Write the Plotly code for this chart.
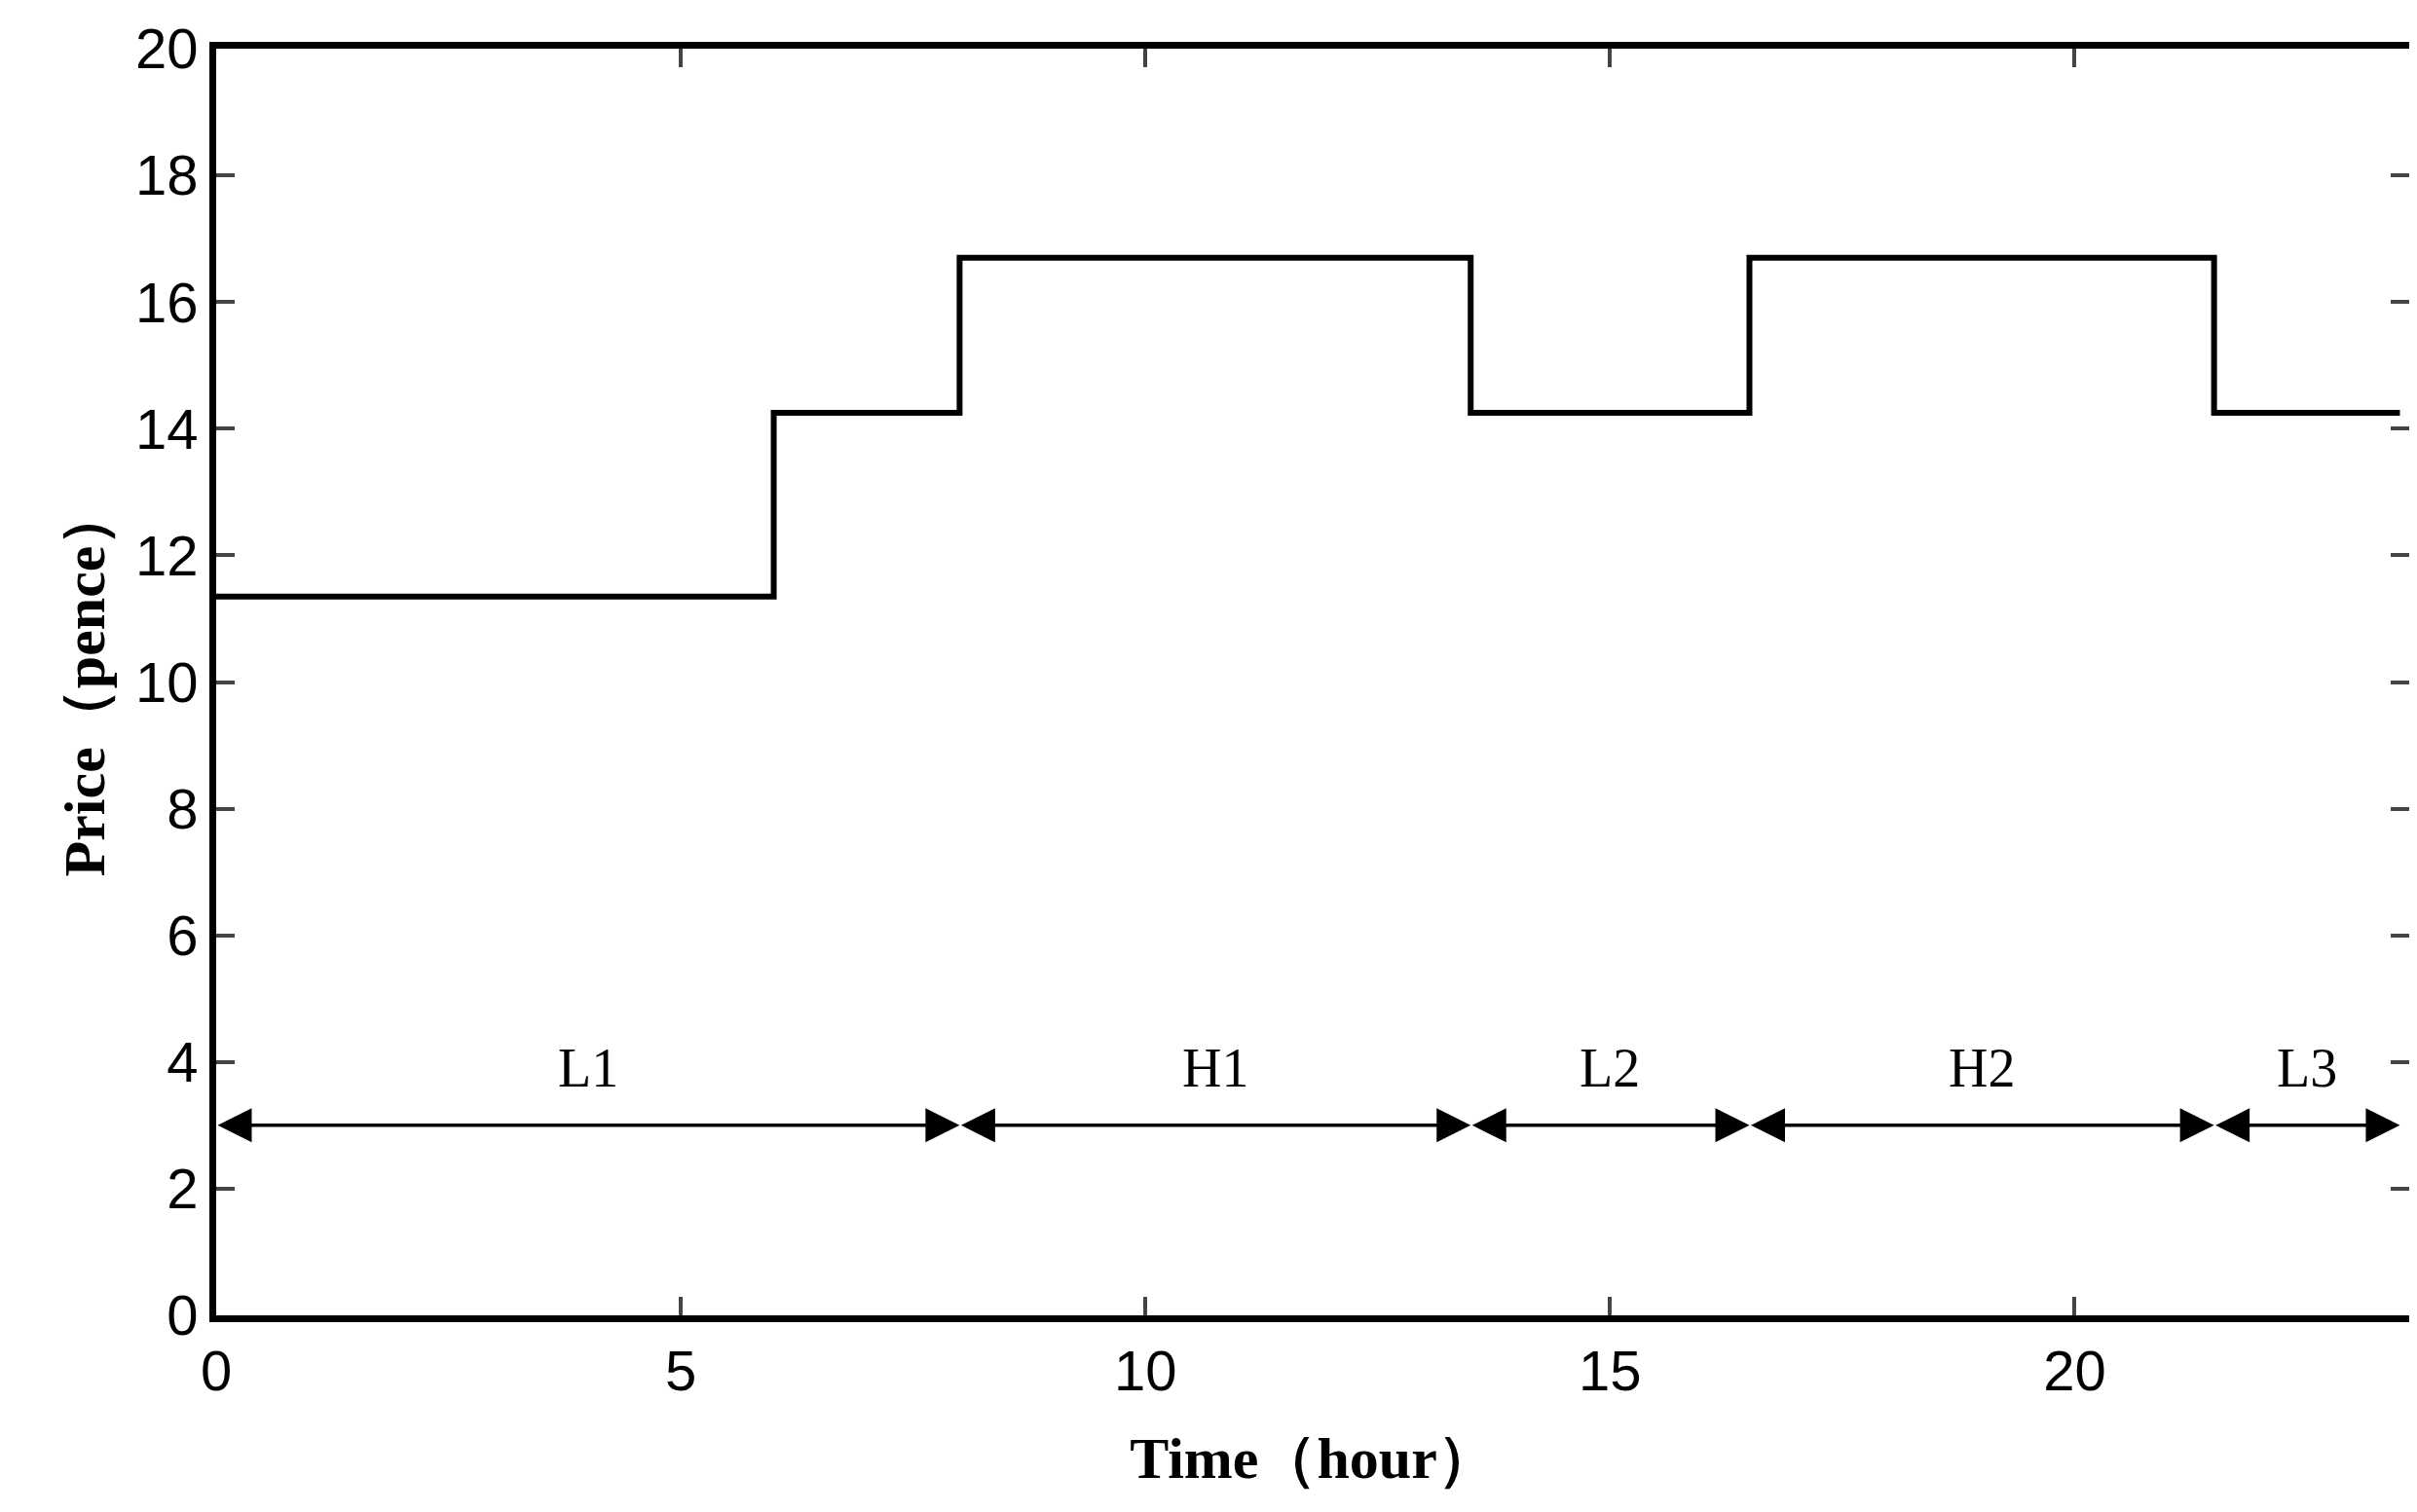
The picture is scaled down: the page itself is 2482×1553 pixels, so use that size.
import plotly.graph_objects as go

step_x = [0, 6, 8, 13.5, 16.5, 21.5, 23.5]
step_y = [11.35, 14.25, 16.7, 14.25, 16.7, 14.25, 14.25]
period_labels = ["L1", "H1", "L2", "H2", "L3"]
period_bounds = [0, 8, 13.5, 16.5, 21.5, 23.5]
arrow_y = 3
label_y = 3.9

fig = go.Figure()
fig.add_trace(go.Scatter(x=step_x, y=step_y, mode="lines", line=dict(shape="hv", color="black", width=6), showlegend=False))

for i, lab in enumerate(period_labels):
    a, b = period_bounds[i], period_bounds[i + 1]
    fig.add_annotation(x=b, y=arrow_y, ax=a, ay=arrow_y, xref="x", yref="y", axref="x", ayref="y",
                       text="", showarrow=True, arrowhead=2, arrowside="end+start", arrowsize=2.0,
                       arrowwidth=3.5, arrowcolor="black", standoff=0, startstandoff=0)
    fig.add_annotation(x=(a + b) / 2, y=label_y, text=lab, showarrow=False,
                       font=dict(family="Liberation Serif", size=56, color="black"))

fig.update_layout(
    width=2482, height=1553, plot_bgcolor="white", paper_bgcolor="white",
    margin=dict(l=214, r=9, t=38, b=210),
    xaxis=dict(range=[0, 23.6], tickvals=[0, 5, 10, 15, 20], ticks="inside", ticklen=19, tickwidth=4,
               showline=True, linewidth=7, linecolor="black", mirror="ticks", showgrid=False, zeroline=False,
               tickfont=dict(family="Liberation Sans", size=58, color="black"),
               title=dict(text="<b>Time（hour）</b>", font=dict(family="Liberation Serif", size=60, color="black"), standoff=40)),
    yaxis=dict(range=[0, 20], dtick=2, ticks="inside", ticklen=19, tickwidth=4,
               showline=True, linewidth=7, linecolor="black", mirror="ticks", showgrid=False, zeroline=False,
               tickfont=dict(family="Liberation Sans", size=58, color="black"),
               title=dict(text="<b>Price（pence）</b>", font=dict(family="Liberation Serif", size=60, color="black"), standoff=14)),
)
fig.write_html("out.html")
